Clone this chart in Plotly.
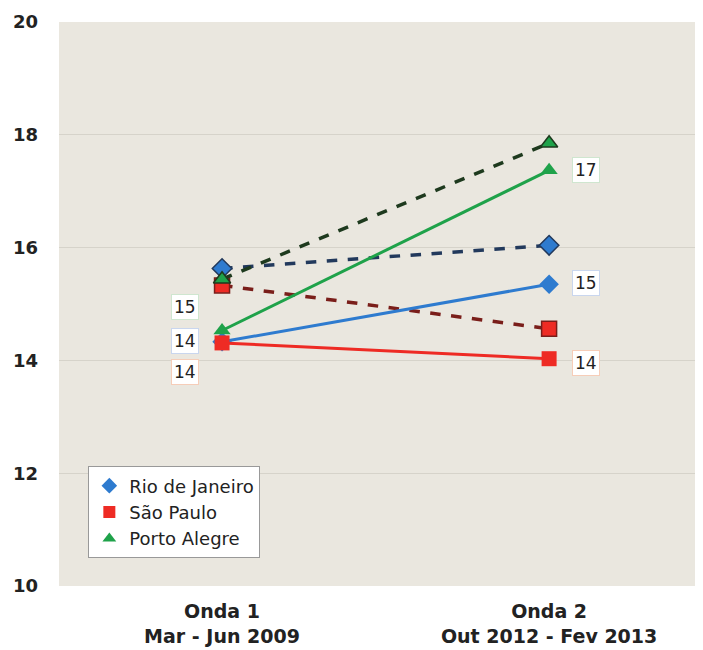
import plotly.graph_objects as go

# ---- data ----
waves = ["Onda 1<br>Mar - Jun 2009", "Onda 2<br>Out 2012 - Fev 2013"]
wave_x = [0, 1]
cities = ["Rio de Janeiro", "São Paulo", "Porto Alegre"]
solid_vals = {
    "Rio de Janeiro": [14.33, 15.35],
    "São Paulo": [14.31, 14.03],
    "Porto Alegre": [14.53, 17.37],
}
dashed_vals = {
    "Rio de Janeiro": [15.63, 16.04],
    "São Paulo": [15.33, 14.56],
    "Porto Alegre": [15.44, 17.85],
}
y_ticks = [10, 12, 14, 16, 18, 20]

# ---- styles ----
solid_color = {"Rio de Janeiro": "#2E7BCF", "São Paulo": "#EE2B24", "Porto Alegre": "#1FA24A"}
dash_color = {"Rio de Janeiro": "#22395C", "São Paulo": "#7A1E1A", "Porto Alegre": "#1E3A1E"}
symbols = {"Rio de Janeiro": "diamond", "São Paulo": "square", "Porto Alegre": "triangle-up"}
label_border = {"Rio de Janeiro": "#C9D6EE", "São Paulo": "#F6CDB8", "Porto Alegre": "#CFE6CF"}
# label offsets (px) for first / second wave
label_shift = {
    "Rio de Janeiro": [(-37, 1), (37, 1)],
    "São Paulo": [(-37, -29), (37, -4)],
    "Porto Alegre": [(-37, 24), (37, 0)],
}

fig = go.Figure()

for c in cities:
    fig.add_trace(go.Scatter(
        x=wave_x, y=dashed_vals[c], mode="lines+markers", showlegend=False,
        line=dict(color=dash_color[c], width=3.5, dash="dash"),
        marker=dict(symbol=symbols[c], size=15, color=solid_color[c],
                    line=dict(color=dash_color[c], width=1.5)),
    ))

for c in cities:
    fig.add_trace(go.Scatter(
        x=wave_x, y=solid_vals[c], mode="lines+markers", showlegend=False,
        line=dict(color=solid_color[c], width=3),
        marker=dict(symbol=symbols[c], size=15, color=solid_color[c]),
    ))

for c in cities:
    fig.add_trace(go.Scatter(
        x=[None], y=[None], mode="markers", name=c,
        marker=dict(symbol=symbols[c], size=12, color=solid_color[c]),
    ))

for c in cities:
    for i, xv in enumerate(wave_x):
        dx, dy = label_shift[c][i]
        fig.add_annotation(
            x=xv, y=solid_vals[c][i], text=str(round(solid_vals[c][i])),
            showarrow=False, xshift=dx, yshift=dy,
            font=dict(family="DejaVu Sans", size=17, color="#222222"),
            bgcolor="white", bordercolor=label_border[c], borderwidth=1, borderpad=2,
        )

fig.update_layout(
    width=703, height=642,
    margin=dict(l=51, r=0, t=14, b=64),
    paper_bgcolor="white",
    plot_bgcolor="#EAE7DF",
    font=dict(family="DejaVu Sans", color="#222222"),
    legend=dict(
        x=0.045, y=0.212, xanchor="left", yanchor="top",
        bgcolor="white", bordercolor="#999999", borderwidth=1,
        font=dict(family="DejaVu Sans", size=18, color="#222222"),
        tracegroupgap=0, itemwidth=30,
    ),
    xaxis=dict(
        range=[-0.4985, 1.495], tickmode="array", tickvals=wave_x,
        ticktext=["<b>" + w.replace("<br>", "</b><br><b>") + "</b>" for w in waves],
        showgrid=False, zeroline=False, showline=False, ticklabelstandoff=12,
        tickfont=dict(family="DejaVu Sans", size=19, color="#222222"),
    ),
    yaxis=dict(
        range=[10, 20], tickmode="array", tickvals=y_ticks,
        ticktext=["<b>%d</b>" % t for t in y_ticks],
        showgrid=True, gridcolor="#D6D3CA", gridwidth=1,
        zeroline=False, showline=False, ticks="", ticklabelstandoff=20,
        tickfont=dict(family="DejaVu Sans", size=18, color="#222222"),
    ),
)

fig.write_html("out.html")
